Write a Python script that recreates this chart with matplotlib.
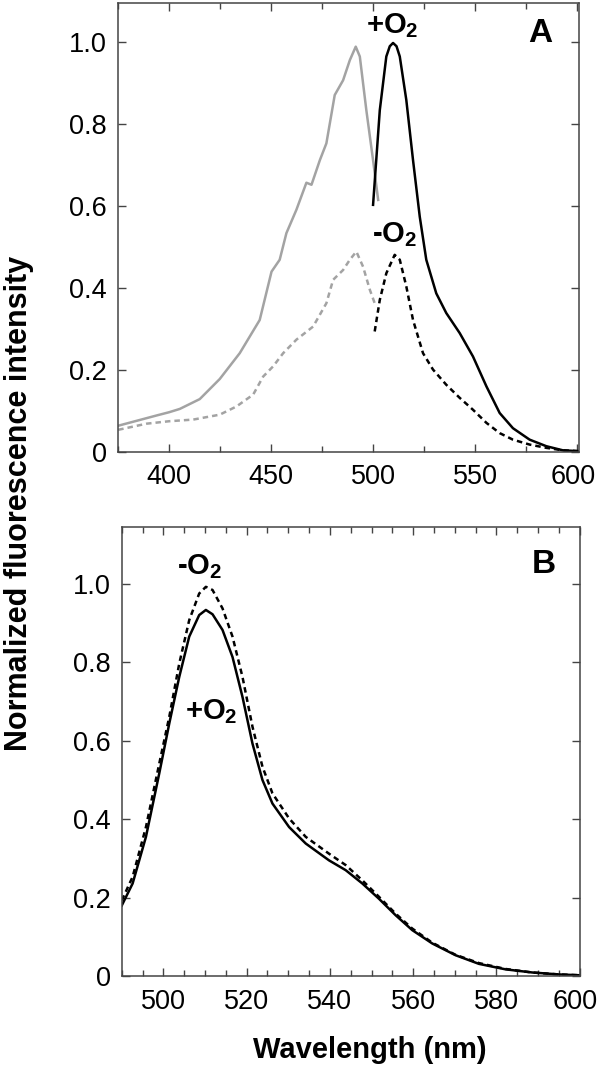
import matplotlib
matplotlib.use("Agg")
import matplotlib.pyplot as plt
import matplotlib.transforms as mtransforms
from matplotlib.ticker import MultipleLocator, FixedLocator, FixedFormatter

plt.rcParams["font.family"] = ["Liberation Sans", "DejaVu Sans"]
plt.rcParams["mathtext.fontset"] = "custom"
plt.rcParams["mathtext.rm"] = "Liberation Sans"
plt.rcParams["mathtext.bf"] = "Liberation Sans:bold"

# Panel A: excitation (gray) and emission (black), with / without O2
exc_plus_wl = [375, 393.8, 400, 405.2, 415, 424.8, 434.6, 444.4, 450.2, 454.2, 457.5, 462.4,
               467.3, 469.8, 473.9, 477.1, 481.2, 485.3, 488.6, 491.5, 493.5, 496.7, 500, 502.5]
exc_plus = [0.064, 0.089, 0.097, 0.105, 0.129, 0.178, 0.241, 0.322, 0.44, 0.469, 0.534, 0.591,
            0.657, 0.652, 0.712, 0.753, 0.871, 0.907, 0.956, 0.989, 0.965, 0.834, 0.712, 0.615]

em_plus_wl = [500, 503.3, 506.5, 508.2, 509.8, 511.5, 513.1, 516.3, 519.6, 522.9, 526.1, 531,
              535.9, 542.5, 549, 555.6, 562.1, 568.6, 576.8, 585, 593.1, 600.8]
em_plus = [0.603, 0.834, 0.965, 0.99, 0.998, 0.99, 0.965, 0.859, 0.712, 0.574, 0.469, 0.387,
           0.339, 0.29, 0.233, 0.16, 0.095, 0.058, 0.030, 0.014, 0.004, 0.002]

exc_minus_wl = [375, 388.9, 400, 411.8, 424.8, 433, 441.2, 446.1, 451, 455.9, 462.4, 470.6,
                477.1, 480.4, 485.3, 488.6, 491.8, 495.1, 498.4, 500.8]
exc_minus = [0.054, 0.069, 0.075, 0.079, 0.091, 0.111, 0.14, 0.184, 0.209, 0.241, 0.274, 0.306,
             0.363, 0.42, 0.444, 0.469, 0.489, 0.452, 0.396, 0.363]

em_minus_wl = [500.8, 503.3, 506.5, 510.6, 513.1, 516.3, 519.6, 524.5, 529.4, 535.9, 542.5,
               549, 555.6, 562.1, 568.6, 576.8, 585, 593.1, 600.8]
em_minus = [0.294, 0.371, 0.436, 0.481, 0.469, 0.404, 0.322, 0.241, 0.201, 0.164, 0.132,
            0.103, 0.071, 0.046, 0.030, 0.018, 0.01, 0.004, 0.002]

# Panel B: emission spectra
b_wl = [490, 492.6, 495.8, 499, 501.4, 503.8, 506.2, 508.6, 510.2, 511.8, 514.2, 516.6, 519,
        521.4, 523.8, 526.2, 530.2, 534.2, 539.8, 543.8, 547.8, 551.8, 555.8, 559.8, 564.6,
        570.2, 575.8, 582.2, 588.6, 595, 599.8]
b_plus = [0.18, 0.236, 0.355, 0.517, 0.644, 0.763, 0.866, 0.921, 0.934, 0.923, 0.883, 0.814,
          0.712, 0.593, 0.5, 0.44, 0.38, 0.338, 0.295, 0.27, 0.236, 0.197, 0.155, 0.117, 0.083,
          0.053, 0.031, 0.017, 0.009, 0.004, 0.002]
b_minus = [0.193, 0.253, 0.38, 0.542, 0.661, 0.797, 0.908, 0.976, 0.993, 0.985, 0.938, 0.866,
           0.763, 0.636, 0.534, 0.466, 0.402, 0.355, 0.312, 0.283, 0.244, 0.202, 0.159, 0.121,
           0.085, 0.054, 0.033, 0.018, 0.009, 0.004, 0.002]

y_ticks = [0, 0.2, 0.4, 0.6, 0.8, 1.0]
y_labels = ["0", "0.2", "0.4", "0.6", "0.8", "1.0"]

GRAY = "#a3a3a3"
DASH = (0, (2.2, 1.6))


def style_axes(ax, major, minor):
    ax.xaxis.set_major_locator(MultipleLocator(major))
    ax.xaxis.set_minor_locator(MultipleLocator(minor))
    ax.yaxis.set_major_locator(FixedLocator(y_ticks))
    ax.yaxis.set_major_formatter(FixedFormatter(y_labels))
    ax.tick_params(which="both", direction="in", top=True, right=True, labelsize=19.5,
                   color="#444444")
    ax.tick_params(which="major", length=6, width=1)
    ax.tick_params(which="minor", length=4, width=1)
    ax.tick_params(axis="x", pad=9)
    ax.tick_params(axis="y", pad=8)
    for sp in ax.spines.values():
        sp.set_color("#444444")
        sp.set_linewidth(1.1)


fig = plt.figure(figsize=(6, 10.71), dpi=100)
ax_a = fig.add_axes([0.197, 0.578, 0.768, 0.419])
ax_b = fig.add_axes([0.203, 0.0887, 0.763, 0.419])

ax_a.plot(exc_plus_wl, exc_plus, color=GRAY, lw=1.8)
ax_a.plot(exc_minus_wl, exc_minus, color=GRAY, lw=1.8, ls=DASH)
ax_a.plot(em_plus_wl, em_plus, color="black", lw=1.8)
ax_a.plot(em_minus_wl, em_minus, color="black", lw=1.8, ls=DASH)
ax_a.set_xlim(375, 601)
ax_a.set_ylim(0, 1.095)
style_axes(ax_a, 50, 25)
ax_a.text(509.5, 1.04, r"+O$_\mathbf{2}$", fontsize=21, fontweight="bold", ha="center", va="center")
ax_a.text(510.5, 0.53, r"-O$_\mathbf{2}$", fontsize=21, fontweight="bold", ha="center", va="center")
ax_a.text(582, 1.02, "A", fontsize=24, fontweight="bold", ha="center", va="center")

ax_b.plot(b_wl, b_plus, color="black", lw=1.8)
ax_b.plot(b_wl, b_minus, color="black", lw=1.8, ls=DASH)
ax_b.set_xlim(490, 600)
ax_b.set_ylim(0, 1.145)
style_axes(ax_b, 20, 5)
ax_b.text(508.6, 1.045, r"-O$_\mathbf{2}$", fontsize=21, fontweight="bold", ha="center", va="center")
ax_b.text(511.4, 0.675, r"+O$_\mathbf{2}$", fontsize=21, fontweight="bold", ha="center", va="center")
ax_b.text(591.4, 1.05, "B", fontsize=24, fontweight="bold", ha="center", va="center")

# keep the rightmost "600" labels inside the figure
fig.canvas.draw()
shift = mtransforms.ScaledTranslation(-4 / 100, 0, fig.dpi_scale_trans)
for ax in (ax_a, ax_b):
    last = ax.get_xticklabels()[-1]
    for lab in ax.get_xticklabels():
        if lab.get_text() == "600":
            lab.set_transform(lab.get_transform() + shift)

fig.text(0.032, 0.530, "Normalized fluorescence intensity", rotation=90, fontsize=22,
         fontweight="bold", ha="center", va="center")
fig.text(0.617, 1 - 1058 / 1071, "Wavelength (nm)", fontsize=21, fontweight="bold",
         ha="center", va="baseline")

fig.savefig("out.png", dpi=100)
